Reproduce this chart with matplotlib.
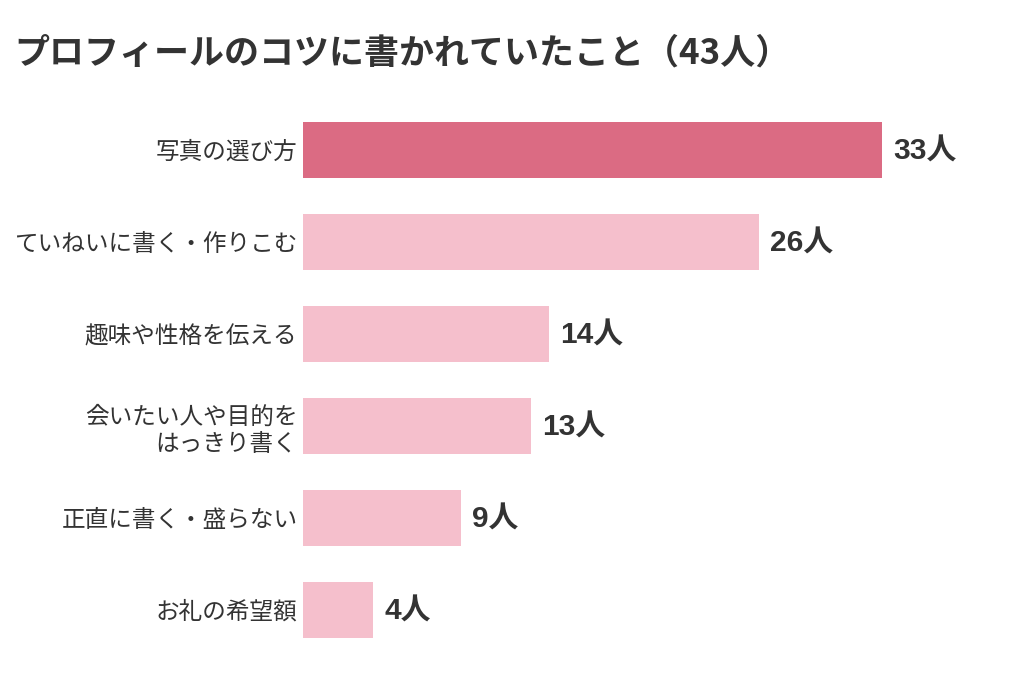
import matplotlib
matplotlib.use('Agg')
import matplotlib.pyplot as plt

plt.rcParams['font.family'] = ['Noto Sans CJK JP', 'DejaVu Sans']

categories = ['写真の選び方', 'ていねいに書く・作りこむ', '趣味や性格を伝える',
              '会いたい人や目的を\nはっきり書く', '正直に書く・盛らない', 'お礼の希望額']
counts = [33, 26, 14, 13, 9, 4]
title = 'プロフィールのコツに書かれていたこと（43人）'

highlight = '#DB6B83'
normal = '#F5BFCC'
text_color = '#333333'

fig = plt.figure(figsize=(10.24, 6.8), dpi=100)
ax = fig.add_axes([303 / 1024, 24 / 680, 721 / 1024, 552 / 680])

ypos = list(range(len(categories)))
colors = [highlight if i == 0 else normal for i in ypos]
ax.barh(ypos, counts, height=0.61, color=colors)

ax.set_xlim(0, 721 / 17.55)
ax.set_ylim(len(categories) - 0.5, -0.5)

for y, v in zip(ypos, counts):
    ax.annotate(f'{v}人', xy=(v, y), xytext=(8, -1.2), textcoords='offset points',
                va='center', ha='left', fontsize=21.5, fontweight='bold', color=text_color,
                family=['Liberation Sans', 'Noto Sans CJK JP'])

ax.set_yticks(ypos)
ax.set_yticklabels(categories, fontsize=17, color=text_color, linespacing=1.25)
ax.tick_params(axis='y', length=0, pad=4)
ax.set_xticks([])
for s in ax.spines.values():
    s.set_visible(False)

fig.text(14 / 1024, 1 - 53 / 680, title, fontsize=25.2, fontweight='bold',
         color=text_color, va='center', ha='left')

fig.savefig('out.png', dpi=100, facecolor='white')
